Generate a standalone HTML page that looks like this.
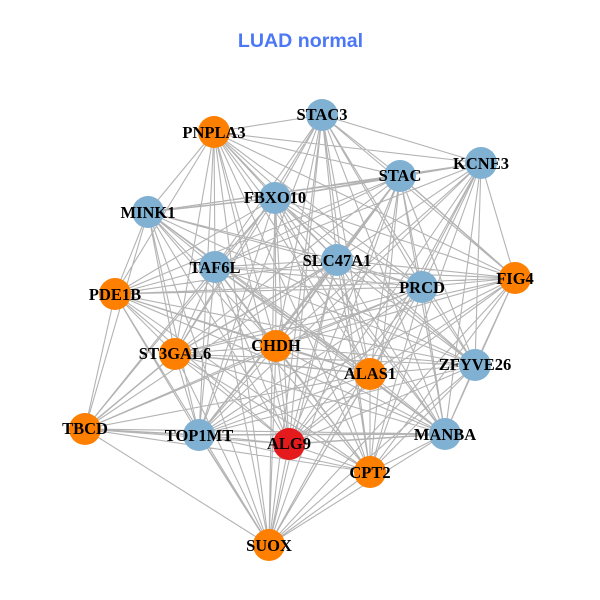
<!DOCTYPE html>
<html><head><meta charset="utf-8"><style>
html,body{margin:0;padding:0;background:#fff}
svg{display:block}
.n text{font:bold 16.500px "Liberation Serif",serif;fill:#000;text-anchor:middle}
</style></head><body>
<svg width="600" height="600" viewBox="0 0 600 600" xmlns="http://www.w3.org/2000/svg">
<rect width="600" height="600" fill="#fff"/>
<text x="300.500" y="47" font-family="Liberation Sans, sans-serif" font-weight="bold" font-size="19.600" fill="#4d78f5" text-anchor="middle">LUAD normal</text>
<path fill="none" stroke="#b3b3b3" stroke-width="1.100" d="
M322 115L214 132M322 115L481 163M322 115L400 176M322 115L275 198M322 115L215 267M322 115L337 260M322 115L422 287M322 115L515 278M322 115L175 354M322 115L276 346M322 115L370 374M322 115L475 365M322 115L199 435M322 115L289 444M322 115L370 472M322 115L445 434M322 115L269 545
M214 132L481 163M214 132L400 176M214 132L275 198M214 132L148 212M214 132L215 267M214 132L337 260M214 132L422 287M214 132L515 278M214 132L115 294M214 132L175 354M214 132L276 346M214 132L370 374M214 132L475 365M214 132L199 435M214 132L289 444M214 132L370 472M214 132L445 434M214 132L269 545
M481 163L275 198M481 163L148 212M481 163L215 267M481 163L337 260M481 163L422 287M481 163L515 278M481 163L276 346M481 163L370 374M481 163L475 365M481 163L199 435M481 163L289 444M481 163L370 472M481 163L445 434M481 163L269 545
M400 176L148 212M400 176L215 267M400 176L422 287M400 176L115 294M400 176L175 354M400 176L276 346M400 176L370 374M400 176L475 365M400 176L199 435M400 176L289 444M400 176L370 472M400 176L445 434M400 176L269 545
M275 198L215 267M275 198L337 260M275 198L422 287M275 198L515 278M275 198L115 294M275 198L175 354M275 198L276 346M275 198L370 374M275 198L475 365M275 198L85 429M275 198L199 435M275 198L289 444M275 198L370 472M275 198L445 434M275 198L269 545
M148 212L215 267M148 212L337 260M148 212L422 287M148 212L115 294M148 212L175 354M148 212L276 346M148 212L370 374M148 212L475 365M148 212L85 429M148 212L199 435M148 212L289 444M148 212L370 472M148 212L445 434M148 212L269 545
M215 267L337 260M215 267L422 287M215 267L515 278M215 267L115 294M215 267L175 354M215 267L370 374M215 267L475 365M215 267L85 429M215 267L199 435M215 267L289 444M215 267L370 472M215 267L445 434M215 267L269 545
M337 260L422 287M337 260L515 278M337 260L115 294M337 260L276 346M337 260L370 374M337 260L475 365M337 260L85 429M337 260L289 444M337 260L370 472M337 260L445 434M337 260L269 545
M422 287L515 278M422 287L115 294M422 287L175 354M422 287L276 346M422 287L370 374M422 287L475 365M422 287L85 429M422 287L199 435M422 287L289 444M422 287L370 472M422 287L445 434M422 287L269 545
M515 278L115 294M515 278L175 354M515 278L276 346M515 278L370 374M515 278L475 365M515 278L199 435M515 278L289 444M515 278L370 472M515 278L445 434M515 278L269 545
M115 294L175 354M115 294L276 346M115 294L370 374M115 294L475 365M115 294L85 429M115 294L199 435M115 294L289 444M115 294L370 472M115 294L445 434M115 294L269 545
M175 354L276 346M175 354L475 365M175 354L199 435M175 354L289 444M175 354L370 472M175 354L445 434M175 354L269 545
M276 346L370 374M276 346L475 365M276 346L85 429M276 346L199 435M276 346L289 444M276 346L370 472M276 346L445 434M276 346L269 545
M370 374L475 365M370 374L85 429M370 374L199 435M370 374L289 444M370 374L370 472M370 374L445 434M370 374L269 545
M475 365L199 435M475 365L289 444M475 365L370 472M475 365L445 434M475 365L269 545
M85 429L289 444M85 429L370 472M85 429L445 434M85 429L269 545
M199 435L289 444M199 435L370 472
M289 444L370 472M289 444L269 545
M370 472L445 434M370 472L269 545
M445 434L269 545"/>
<path fill="none" stroke="#b3b3b3" stroke-width="1.500" d="
M400 176L481 163M400 176L275 198M400 176L337 260M400 176L515 278M275 198L148 212
M215 267L276 346M337 260L175 354M337 260L199 435M175 354L370 374M85 429L175 354M85 429L199 435M199 435L269 545M289 444L445 434M199 435L445 434"/>
<g class="n">
<circle cx="322" cy="115" r="16" fill="#80b1d3"/>
<circle cx="214" cy="132" r="16" fill="#ff7f00"/>
<circle cx="481" cy="163" r="16" fill="#80b1d3"/>
<circle cx="400" cy="176" r="16" fill="#80b1d3"/>
<circle cx="275" cy="198" r="16" fill="#80b1d3"/>
<circle cx="148" cy="212" r="16" fill="#80b1d3"/>
<circle cx="215" cy="267" r="16" fill="#80b1d3"/>
<circle cx="337" cy="260" r="16" fill="#80b1d3"/>
<circle cx="422" cy="287" r="16" fill="#80b1d3"/>
<circle cx="515" cy="278" r="16" fill="#ff7f00"/>
<circle cx="115" cy="294" r="16" fill="#ff7f00"/>
<circle cx="175" cy="354" r="16" fill="#ff7f00"/>
<circle cx="276" cy="346" r="16" fill="#ff7f00"/>
<circle cx="370" cy="374" r="16" fill="#ff7f00"/>
<circle cx="475" cy="365" r="16" fill="#80b1d3"/>
<circle cx="85" cy="429" r="16" fill="#ff7f00"/>
<circle cx="199" cy="435" r="16" fill="#80b1d3"/>
<circle cx="289" cy="444" r="16" fill="#e41a1c"/>
<circle cx="370" cy="472" r="16" fill="#ff7f00"/>
<circle cx="445" cy="434" r="16" fill="#80b1d3"/>
<circle cx="269" cy="545" r="16" fill="#ff7f00"/>
<text x="322" y="120">STAC3</text>
<text x="214" y="138">PNPLA3</text>
<text x="481" y="169">KCNE3</text>
<text x="400" y="181">STAC</text>
<text x="275" y="203">FBXO10</text>
<text x="148" y="218">MINK1</text>
<text x="215" y="273">TAF6L</text>
<text x="337" y="266">SLC47A1</text>
<text x="422" y="293">PRCD</text>
<text x="515" y="284">FIG4</text>
<text x="115" y="300">PDE1B</text>
<text x="175" y="359">ST3GAL6</text>
<text x="276" y="351">CHDH</text>
<text x="370" y="379">ALAS1</text>
<text x="475" y="370">ZFYVE26</text>
<text x="85" y="434">TBCD</text>
<text x="199" y="441">TOP1MT</text>
<text x="289" y="449">ALG9</text>
<text x="370" y="478">CPT2</text>
<text x="445" y="440">MANBA</text>
<text x="269" y="551">SUOX</text>
</g>
</svg>
</body></html>
